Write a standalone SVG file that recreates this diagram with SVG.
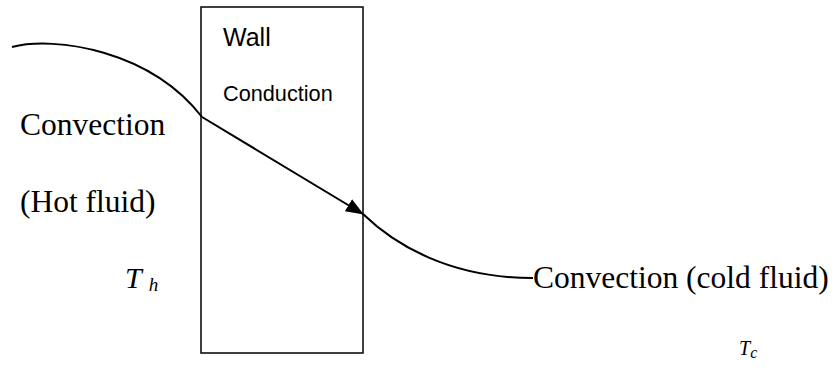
<svg xmlns="http://www.w3.org/2000/svg" width="836" height="370" viewBox="0 0 836 370">
<style>
.serif{font-family:"Liberation Serif","Times New Roman",serif;fill:#000}
.sans{font-family:"Liberation Sans",Arial,sans-serif;fill:#000}
.big{font-size:31.5px}
.it{font-style:italic}
.line{fill:none;stroke:#000;stroke-width:2}
</style>
<defs>
<marker id="arr" markerWidth="18" markerHeight="14" refX="17" refY="7" orient="auto" markerUnits="userSpaceOnUse">
<path d="M0,0 L18,7 L0,14 Z" fill="#000"/>
</marker>
</defs>
<rect width="836" height="370" fill="#fff"/>
<g id="wall">
<rect x="201" y="7" width="162" height="346" fill="none" stroke="#000" stroke-width="1.5"/>
<text class="sans" x="223" y="46" font-size="25">Wall</text>
<text class="sans" x="223" y="101" font-size="21.7">Conduction</text>
</g>
<g id="hot">
<text class="serif big" x="20" y="135">Convection</text>
<text class="serif big" x="20" y="212">(Hot fluid)</text>
<text class="serif it" x="125" y="288" font-size="30">T <tspan font-size="19" dy="3">h</tspan></text>
</g>
<g id="cold">
<text class="serif big" x="533" y="288">Convection (cold fluid)</text>
<text class="serif it" x="739" y="355" font-size="20">T<tspan font-size="16" dy="3">c</tspan></text>
</g>
<g id="connectors">
<path class="line" d="M12,47 C55,36 150,50 202,117"/>
<path class="line" d="M202,117 L363,214" marker-end="url(#arr)"/>
<path class="line" d="M363,214 C395,245 450,278 533,278"/>
</g>
</svg>
